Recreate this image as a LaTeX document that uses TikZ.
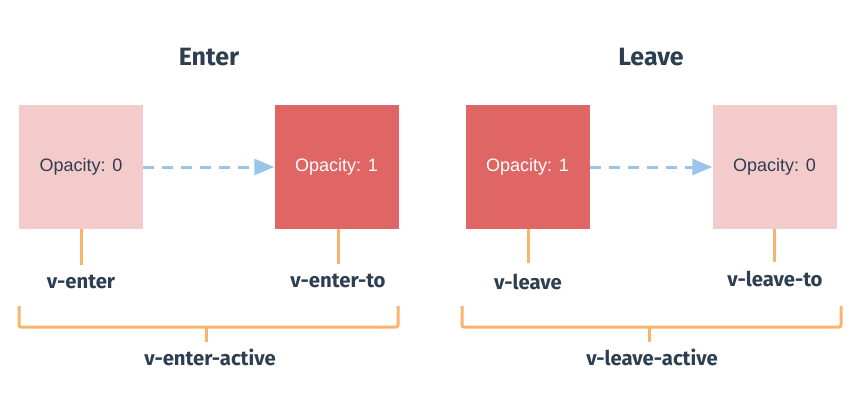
\documentclass[tikz,border=0pt]{standalone}
\usepackage{fontspec}
\setmainfont{Liberation Sans}
\newfontfamily\labelfont{Fira Sans}
\usetikzlibrary{arrows.meta}
\definecolor{pale}{HTML}{F4CBCB}
\definecolor{strong}{HTML}{E06666}
\definecolor{ink}{HTML}{2C3E50}
\definecolor{amber}{HTML}{F9B36A}
\definecolor{flow}{HTML}{9CC4EA}
\tikzset{
  state/.style={minimum size=124pt,inner sep=0pt,font=\fontsize{18}{20}\selectfont},
  faint/.style={state,fill=pale,text=ink},
  solid/.style={state,fill=strong,text=white},
  title/.style={font=\labelfont\bfseries\fontsize{25}{28}\selectfont,text=ink},
  tag/.style={font=\labelfont\bfseries\fontsize{20.3}{23}\selectfont,text=ink},
  stem/.style={draw=amber,line width=3pt},
  brace/.style={draw=amber,line width=3pt,rounded corners=2pt},
  flowline/.style={draw=flow,line width=3pt,dash pattern=on 11pt off 8pt,
    -{Triangle[length=20pt,width=16pt]}},
}
\begin{document}
\begin{tikzpicture}[x=1pt,y=-1pt]
\useasboundingbox (0,0) rectangle (860,415);
% headings
\node[title] (hEnter) at (209,57) {Enter};
\node[title] (hLeave) at (651,57) {Leave};
% state boxes
\node[faint] (b1) at (81,167) {Opacity: 0};
\node[solid] (b2) at (336.5,167) {Opacity: 1};
\node[solid] (b3) at (527.5,167) {Opacity: 1};
\node[faint] (b4) at (774.5,167) {Opacity: 0};
% transitions
\draw[flowline] (b1.east) -- (b2.west);
\draw[flowline] (b3.east) -- (b4.west);
% stems and class names
\coordinate (s1) at (81,265);
\coordinate (s2) at (338,264);
\coordinate (s3) at (528,263);
\coordinate (s4) at (774,262);
\draw[stem] (b1.south -| s1) -- (s1);
\draw[stem] (b2.south -| s2) -- (s2);
\draw[stem] (b3.south -| s3) -- (s3);
\draw[stem] (b4.south -| s4) -- (s4);
\node[tag] (t1) at (81,282) {v-enter};
\node[tag] (t2) at (338,281) {v-enter-to};
\node[tag] (t3) at (528,282) {v-leave};
\node[tag] (t4) at (775,279) {v-leave-to};
% brackets spanning each phase
\draw[brace] (19,306) -- (19,327) -- (398,327) -- (398,306);
\coordinate (m1) at (206,327);
\coordinate (e1) at (206,342);
\draw[stem] (m1) -- (e1);
\draw[brace] (462,306) -- (462,327) -- (841,327) -- (841,306);
\coordinate (m2) at (649,327);
\coordinate (e2) at (649,342);
\draw[stem] (m2) -- (e2);
\node[tag] (a1) at (210,357) {v-enter-active};
\node[tag] (a2) at (652,357) {v-leave-active};
\end{tikzpicture}
\end{document}
